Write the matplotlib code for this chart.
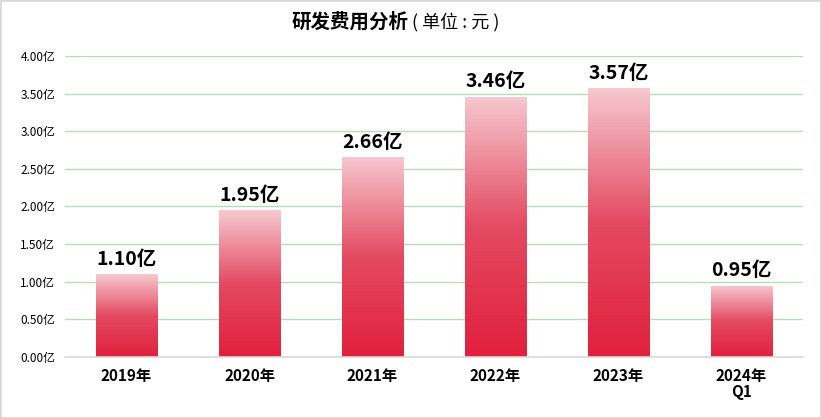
import matplotlib.pyplot as plt
import numpy as np
from matplotlib.colors import LinearSegmentedColormap
from matplotlib.patches import Rectangle

plt.rcParams['font.family'] = ['Noto Sans CJK SC', 'DejaVu Sans']

categories = ['2019年', '2020年', '2021年', '2022年', '2023年', '2024年\nQ1']
values = [1.10, 1.95, 2.66, 3.46, 3.57, 0.95]
value_labels = ['1.10亿', '1.95亿', '2.66亿', '3.46亿', '3.57亿', '0.95亿']
yticks = [0, 0.5, 1.0, 1.5, 2.0, 2.5, 3.0, 3.5, 4.0]

fig = plt.figure(figsize=(8.21, 4.18), dpi=100)
fig.patches.append(Rectangle((0, 0), 1, 1, transform=fig.transFigure, fill=False,
                             edgecolor='#d9d9d9', linewidth=2))
ax = fig.add_axes([65 / 821, 61 / 418, 738 / 821, 301 / 418])

# gradient from light pink (top) to red (bottom)
cmap = LinearSegmentedColormap.from_list('bar', ['#e1203c', '#e44a62', '#f6c9d0'])
grad = np.linspace(0, 1, 256).reshape(-1, 1)

x = np.arange(len(categories))
bars = ax.bar(x, values, width=0.5, color='none', zorder=2)
for b in bars:
    x0, y0 = b.get_x(), b.get_y()
    w, h = b.get_width(), b.get_height()
    im = ax.imshow(grad, cmap=cmap, aspect='auto', origin='lower',
                   extent=[x0, x0 + w, y0, y0 + h], zorder=2)
    im.set_clip_path(b)

for xi, v, lab in zip(x, values, value_labels):
    ax.text(xi, v + 0.07, lab, ha='center', va='bottom', fontsize=14, fontweight='bold')

ax.set_xlim(-0.5, len(categories) - 0.5)
ax.set_ylim(0, 4.0)
ax.set_yticks(yticks)
ax.set_yticklabels([f'{t:.2f}亿' for t in yticks], fontsize=8.5)
ax.set_xticks(x)
ax.set_xticklabels(categories, fontsize=11, fontweight='bold', linespacing=1.0)
ax.tick_params(length=0, pad=7)
ax.tick_params(axis='x', pad=8)

ax.grid(axis='y', color='#b7ddb5', linewidth=1, zorder=0)
ax.set_axisbelow(True)
for s in ['top', 'right', 'left']:
    ax.spines[s].set_visible(False)
ax.spines['bottom'].set_color('#d9d9d9')
ax.spines['bottom'].set_linewidth(1.2)

fig.text(0.497, 0.947, '研发费用分析', ha='right', va='center', fontsize=14, fontweight='bold')
fig.text(0.497, 0.947, ' ( 单位 : 元 )', ha='left', va='center', fontsize=13)

fig.savefig('out.png', dpi=100)
